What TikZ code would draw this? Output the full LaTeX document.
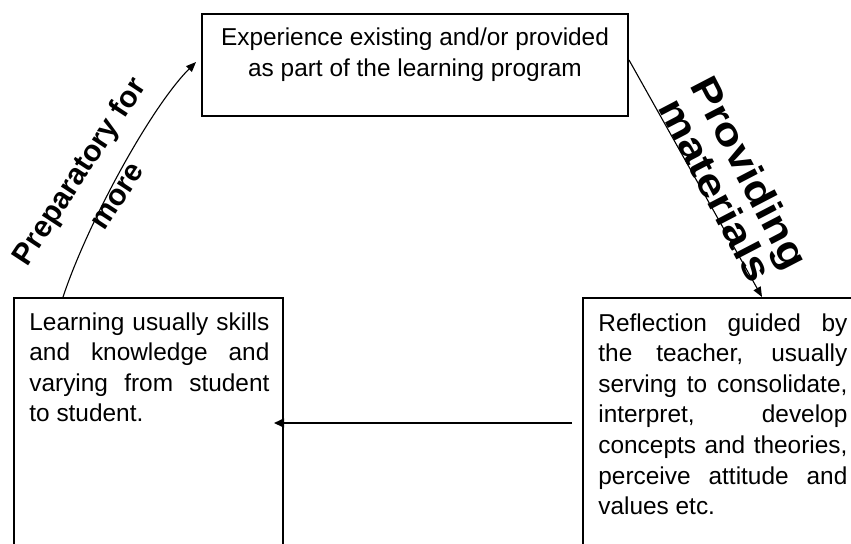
\documentclass[tikz,border=0pt]{standalone}
\usepackage{fontspec}
\setmainfont{Liberation Sans}
\newfontfamily\widesans[FakeStretch=1.17]{Liberation Sans}
\usetikzlibrary{arrows.meta}

\tikzset{
	box/.style={draw,line width=1pt,inner sep=0pt},
	boxtext/.style={inner sep=0pt,font=\fontsize{12.2}{15.3}\selectfont,
		execute at begin node={\tolerance=10000\hyphenpenalty=10000}},
	sidelabel/.style={inner sep=0pt,align=center},
	link/.style={line width=0.55pt,-{Triangle[length=5pt,width=4pt]}},
	flow/.style={line width=0.8pt,-{Triangle[length=5pt,width=4.5pt]}}
}

\begin{document}
\begin{tikzpicture}[x=0.5pt,y=-0.5pt]
		\useasboundingbox (0,0) rectangle (851,543);
		\clip (0,0) rectangle (851,543);
		
		\node[box,minimum width=213pt,minimum height=51pt] (exp) at (415,65) {};
		\node[box,minimum width=134.5pt,minimum height=125pt] (learn) at (148.5,423) {};
		\node[box,minimum width=143.5pt,minimum height=125pt] (refl) at (726.5,423) {};
		
		\node[boxtext,anchor=north,align=center] (exptext) at (415,27.5) {Experience existing and/or provided\\as part of the learning program};
		\node[boxtext,anchor=north west,text width=120pt,align=justify] (learntext) at (29,312) {Learning usually skills\linebreak and knowledge and\linebreak varying from student\linebreak to student.};
		\node[boxtext,anchor=north west,text width=124.5pt,align=justify] (refltext) at (598,313) {Reflection guided by\linebreak the teacher, usually\linebreak serving to consolidate,\linebreak interpret, develop\linebreak concepts and theories,\linebreak perceive attitude and\linebreak values etc.};
		
		\node[sidelabel,rotate=56.7,font=\bfseries\fontsize{15}{22.5}\selectfont] (prep) at (97,183) {Preparatory for\\more};
		\node[sidelabel,rotate=-62.5,font=\widesans\bfseries\fontsize{19.5}{15.5}\selectfont] (prov) at (733,181) {Providing\\materials};
		
		\draw[link] ([xshift=25pt]learn.north west) .. controls +(25,-75) and +(-45,45) .. ([xshift=-2.5pt,yshift=1.5pt]exp.west);
		\draw[link] ([yshift=2.5pt]exp.east) -- ([xshift=90pt]refl.north west);
		\draw[flow] ([xshift=-5pt]refl.west) -- ([xshift=-5pt]learn.east);
	\end{tikzpicture}
\end{document}
